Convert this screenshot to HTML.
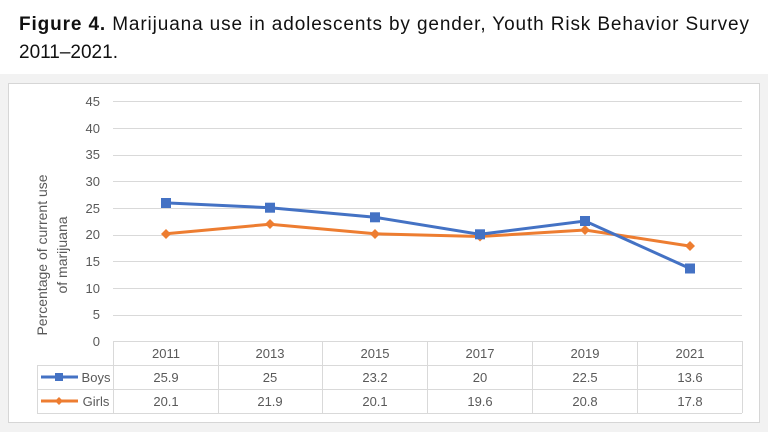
<!DOCTYPE html>
<html><head><meta charset="utf-8"><style>
body{margin:0;width:768px;height:432px;background:#fff;overflow:hidden;font-family:"Liberation Sans",sans-serif}
</style></head><body>
<svg width="768" height="432" xmlns="http://www.w3.org/2000/svg" font-family="Liberation Sans, sans-serif">
<rect x="0" y="0" width="768" height="432" fill="#fff"/>
<text x="19" y="30" font-size="19" fill="#111" textLength="730" lengthAdjust="spacing"><tspan font-weight="bold">Figure 4.</tspan> Marijuana use in adolescents by gender, Youth Risk Behavior Survey</text>
<text x="19" y="58" font-size="19" fill="#111">2011–2021.</text>
<rect x="0" y="74" width="768" height="358" fill="#f2f2f2"/>
<rect x="8.5" y="83.5" width="751" height="339" fill="#fff" stroke="#d6d6d6"/>
<g stroke="#d9d9d9" stroke-width="1">
<line x1="113" x2="742" y1="101.5" y2="101.5"/><line x1="113" x2="742" y1="128.5" y2="128.5"/>
<line x1="113" x2="742" y1="155.5" y2="155.5"/><line x1="113" x2="742" y1="181.5" y2="181.5"/>
<line x1="113" x2="742" y1="208.5" y2="208.5"/><line x1="113" x2="742" y1="235.5" y2="235.5"/>
<line x1="113" x2="742" y1="261.5" y2="261.5"/><line x1="113" x2="742" y1="288.5" y2="288.5"/>
<line x1="113" x2="742" y1="315.5" y2="315.5"/>
<line x1="113" x2="742" y1="341.5" y2="341.5"/><line x1="37" x2="742" y1="365.5" y2="365.5"/>
<line x1="37" x2="742" y1="389.5" y2="389.5"/><line x1="37" x2="742" y1="413.5" y2="413.5"/>
<line x1="37.5" x2="37.5" y1="365" y2="413"/>
<line x1="113.5" x2="113.5" y1="341" y2="413"/><line x1="218.5" x2="218.5" y1="341" y2="413"/>
<line x1="322.5" x2="322.5" y1="341" y2="413"/><line x1="427.5" x2="427.5" y1="341" y2="413"/>
<line x1="532.5" x2="532.5" y1="341" y2="413"/><line x1="637.5" x2="637.5" y1="341" y2="413"/>
<line x1="742.5" x2="742.5" y1="341" y2="413"/>
</g>
<g font-size="13" fill="#595959" text-anchor="end">
<text x="100" y="106">45</text><text x="100" y="133">40</text><text x="100" y="159">35</text>
<text x="100" y="186">30</text><text x="100" y="213">25</text><text x="100" y="239">20</text>
<text x="100" y="266">15</text><text x="100" y="293">10</text><text x="100" y="319">5</text>
<text x="100" y="346">0</text>
</g>
<text transform="translate(47,255) rotate(-90)" font-size="14" fill="#595959" text-anchor="middle">Percentage of current use</text>
<text transform="translate(67,255) rotate(-90)" font-size="14" fill="#595959" text-anchor="middle">of marijuana</text>
<g font-size="13" fill="#595959" text-anchor="middle">
<text x="166" y="358">2011</text><text x="270" y="358">2013</text><text x="375" y="358">2015</text>
<text x="480" y="358">2017</text><text x="585" y="358">2019</text><text x="690" y="358">2021</text>
<text x="166" y="382">25.9</text><text x="270" y="382">25</text><text x="375" y="382">23.2</text>
<text x="480" y="382">20</text><text x="585" y="382">22.5</text><text x="690" y="382">13.6</text>
<text x="166" y="406">20.1</text><text x="270" y="406">21.9</text><text x="375" y="406">20.1</text>
<text x="480" y="406">19.6</text><text x="585" y="406">20.8</text><text x="690" y="406">17.8</text>
<text x="96" y="382">Boys</text><text x="96" y="406">Girls</text>
</g>
<line x1="41" x2="78" y1="377" y2="377" stroke="#4472c4" stroke-width="3"/>
<rect x="55" y="373" width="8" height="8" fill="#4472c4"/>
<line x1="41" x2="78" y1="401" y2="401" stroke="#ed7d31" stroke-width="3"/>
<path d="M59 397 L63 401 L59 405 L55 401Z" fill="#ed7d31"/>
<polyline fill="none" stroke="#ed7d31" stroke-width="3" points="166,233.8 270,224.2 375,233.8 480,236.5 585,230 690,246.1"/>
<g fill="#ed7d31">
<path d="M166 229 l5 5 l-5 5 l-5 -5z"/><path d="M270 219 l5 5 l-5 5 l-5 -5z"/>
<path d="M375 229 l5 5 l-5 5 l-5 -5z"/><path d="M480 231.5 l5 5 l-5 5 l-5 -5z"/>
<path d="M585 225 l5 5 l-5 5 l-5 -5z"/><path d="M690 241 l5 5 l-5 5 l-5 -5z"/>
</g>
<polyline fill="none" stroke="#4472c4" stroke-width="3" points="166,202.9 270,207.7 375,217.3 480,234.3 585,221 690,268.5"/>
<g fill="#4472c4">
<rect x="161" y="198" width="10" height="10"/><rect x="265" y="202.7" width="10" height="10"/>
<rect x="370" y="212.3" width="10" height="10"/><rect x="475" y="229.3" width="10" height="10"/>
<rect x="580" y="216" width="10" height="10"/><rect x="685" y="263.5" width="10" height="10"/>
</g>
</svg>
</body></html>
